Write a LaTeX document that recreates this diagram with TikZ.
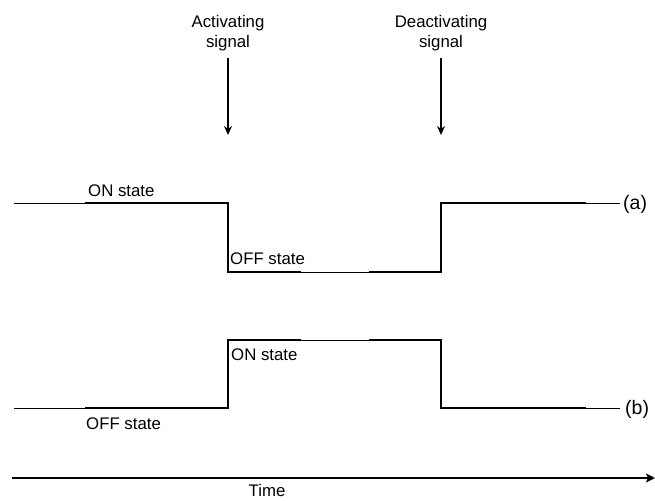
\documentclass[tikz,border=0pt]{standalone}
\usepackage{fontspec}
\setmainfont{Liberation Sans}
\usetikzlibrary{arrows.meta}
\begin{document}
\begin{tikzpicture}[x=1pt,y=-1pt,
  txt/.style={inner sep=0pt,font=\fontsize{16.8}{20.5}\selectfont},
  tag/.style={inner sep=0pt,font=\fontsize{19.5}{22}\selectfont},
  thinline/.style={line width=0.9pt},
  thickline/.style={line width=2.6pt,line join=miter,line cap=rect},
  sigarrow/.style={line width=2pt,-{Stealth[length=9pt,width=8pt]}},
  timearrow/.style={line width=2.6pt,-{Stealth[length=9pt,width=9pt,inset=2pt]}}]
\useasboundingbox (0,0) rectangle (655,500);

% signal labels and arrows
\node[txt,align=center,anchor=north] (act) at (228,15) {Activating\\signal};
\node[txt,align=center,anchor=north] (deact) at (441,15) {Deactivating\\signal};
\coordinate (actS) at (228,58);
\coordinate (actE) at (228,135);
\coordinate (deaS) at (441,58);
\coordinate (deaE) at (441,135);
\draw[sigarrow] (actS) -- (actE);
\draw[sigarrow] (deaS) -- (deaE);

% trace (a)
\coordinate (a0) at (14,203);
\coordinate (a1) at (86,203);
\coordinate (a2) at (228,203);
\coordinate (a3) at (228,272);
\coordinate (a4) at (300,272);
\coordinate (a5) at (370,272);
\coordinate (a6) at (441,272);
\coordinate (a7) at (441,203);
\coordinate (a8) at (585,203);
\coordinate (a9) at (620,203);
\draw[thinline] (a0) -- (a1);
\draw[thickline] (a1) -- (a2) -- (a3) -- (a4);
\draw[thinline] (a4) -- (a5);
\draw[thickline] (a5) -- (a6) -- (a7) -- (a8);
\draw[thinline] (a8) -- (a9);
\node[tag,anchor=west] (la) at (623,204) {(a)};
\node[txt,anchor=base west] (aon) at (88,196) {ON state};
\node[txt,anchor=base west] (aoff) at (230,264) {OFF state};

% trace (b)
\coordinate (b0) at (14,408);
\coordinate (b1) at (86,408);
\coordinate (b2) at (228,408);
\coordinate (b3) at (228,340);
\coordinate (b4) at (300,340);
\coordinate (b5) at (370,340);
\coordinate (b6) at (441,340);
\coordinate (b7) at (441,408);
\coordinate (b8) at (585,408);
\coordinate (b9) at (620,408);
\draw[thinline] (b0) -- (b1);
\draw[thickline] (b1) -- (b2) -- (b3) -- (b4);
\draw[thinline] (b4) -- (b5);
\draw[thickline] (b5) -- (b6) -- (b7) -- (b8);
\draw[thinline] (b8) -- (b9);
\node[tag,anchor=west] (lb) at (625,409) {(b)};
\node[txt,anchor=base west] (bon) at (231,360) {ON state};
\node[txt,anchor=base west] (boff) at (86,429) {OFF state};

% time axis
\coordinate (t0) at (12,478);
\coordinate (t1) at (655,478);
\draw[timearrow] (t0) -- (t1);
\node[txt,anchor=base] (time) at (267,496) {Time};
\end{tikzpicture}
\end{document}
